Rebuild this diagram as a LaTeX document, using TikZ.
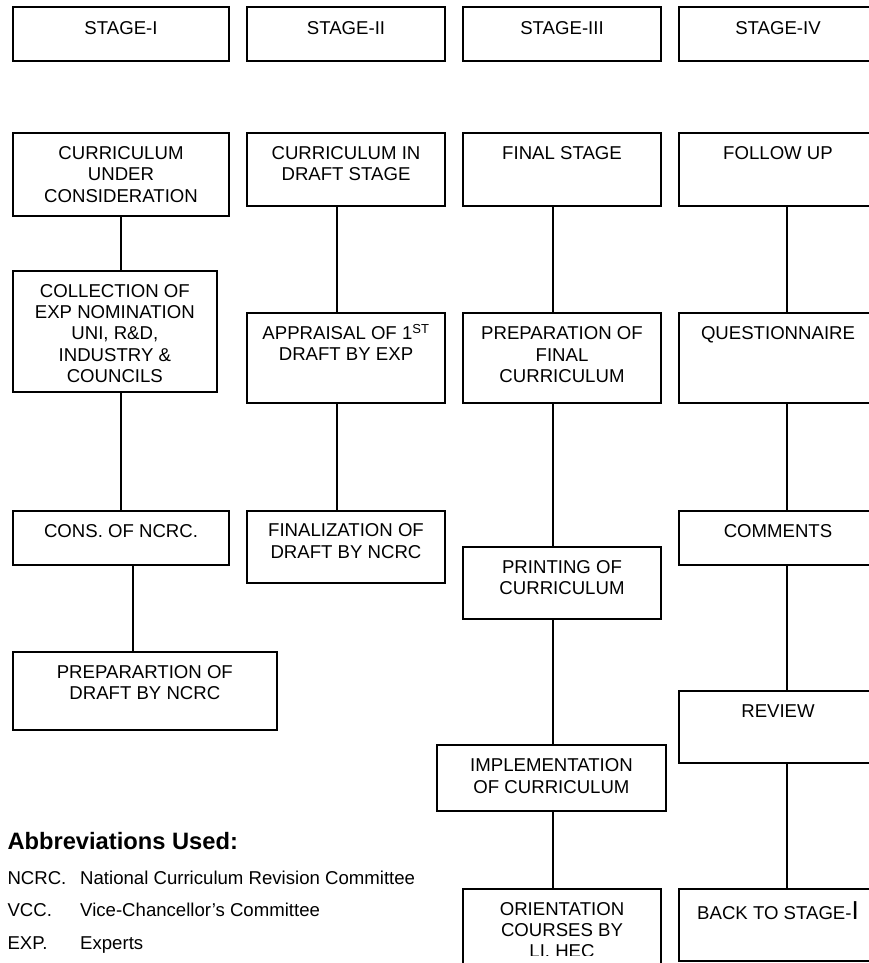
\documentclass[tikz,border=0pt]{standalone}
\usepackage{fontspec}
\setmainfont{Liberation Sans}
\newcommand\boxfont{\fontsize{18.6}{21.3}\selectfont}
\tikzset{
  boxshape/.style={draw, line width=1.9pt, rectangle, inner sep=0pt, outer sep=0pt, anchor=north west},
  lbl/.style={anchor=base, inner sep=0pt, font=\boxfont},
  link/.style={line width=1.9pt},
  abbr/.style={anchor=base west, inner sep=0pt, font=\boxfont}
}
% \bx[offset]{name}{x1}{y1}{x2}{y2}{text}
\newcommand\bx[7][26.7]{%
  \node[boxshape, minimum width={#5-#3}, minimum height={#6-#4}] (#2) at (#3,#4) {};
  \node[lbl] (#2t) at ([yshift=-#1pt]#2.north) {\parbox[t]{\dimexpr #5pt-#3pt\relax}{\centering #7}};
}
\begin{document}
\begin{tikzpicture}[x=1pt,y=-1pt]
\useasboundingbox (0,0) rectangle (869,963);

% stage headers
\bx[28.3]{s1}{12.7}{6.7}{229.3}{61.3}{STAGE-I}
\bx[28.3]{s2}{246.7}{6.7}{445.3}{61.3}{STAGE-II}
\bx[28.3]{s3}{462.7}{6.7}{661.3}{61.3}{STAGE-III}
\bx[28.3]{s4}{679}{6.7}{877}{61.3}{STAGE-IV}

% column 1
\bx{a1}{12.7}{132.7}{229.3}{216}{CURRICULUM\\UNDER\\CONSIDERATION}
\bx[26.3]{a2}{12.7}{271}{217}{391.7}{COLLECTION OF\\EXP NOMINATION\\UNI, R\&D,\\INDUSTRY \&\\COUNCILS}
\bx{a3}{12.7}{511}{229.3}{565}{CONS. OF NCRC.}
\bx[26.3]{a4}{12.7}{652.3}{277}{730}{PREPARARTION OF\\DRAFT BY NCRC}

% column 2
\bx{b1}{246.7}{132.7}{445.3}{205.7}{CURRICULUM IN\\DRAFT STAGE}
\bx[26.3]{b2}{246.7}{313}{445.3}{403}{APPRAISAL OF 1\textsuperscript{ST}\\DRAFT BY EXP}
\bx[25.9]{b3}{246.7}{511}{445.3}{583}{FINALIZATION OF\\DRAFT BY NCRC}

% column 3
\bx{c1}{462.7}{132.7}{661.3}{205.7}{FINAL STAGE}
\bx{c2}{462.7}{313}{661.3}{403}{PREPARATION OF\\FINAL\\CURRICULUM}
\bx{c3}{462.7}{546.7}{661.3}{619.3}{PRINTING OF\\CURRICULUM}
\bx{c4}{436.7}{745}{666.3}{810.7}{IMPLEMENTATION\\OF CURRICULUM}
\node[boxshape, minimum width={661.3-462.7}, minimum height={990-889.3}] (c5) at (462.7,889.3) {};
\begin{scope}
  \clip (440,880) rectangle (680,955.5);
  \node[lbl] (c5t) at ([yshift=-25.8pt]c5.north) {\parbox[t]{198.6pt}{\centering ORIENTATION\\COURSES BY\\LI. HEC}};
\end{scope}

% column 4
\bx{d1}{679}{132.7}{877}{205.7}{FOLLOW UP}
\bx{d2}{679}{313}{877}{403}{QUESTIONNAIRE}
\bx{d3}{679}{511}{877}{565}{COMMENTS}
\bx{d4}{679}{691}{877}{763}{REVIEW}
\bx[30]{d5}{679}{889.3}{877}{961}{BACK TO STAGE-{\fontsize{26}{26}\selectfont I}}

% connector x positions
\coordinate (xa) at (121,0);
\coordinate (xb) at (133,0);
\coordinate (xc) at (337,0);
\coordinate (xd) at (553.3,0);
\coordinate (xe) at (787,0);

\draw[link] (a1.south -| xa) -- (a2.north -| xa);
\draw[link] (a2.south -| xa) -- (a3.north -| xa);
\draw[link] (a3.south -| xb) -- (a4.north -| xb);

\draw[link] (b1.south -| xc) -- (b2.north -| xc);
\draw[link] (b2.south -| xc) -- (b3.north -| xc);

\draw[link] (c1.south -| xd) -- (c2.north -| xd);
\draw[link] (c2.south -| xd) -- (c3.north -| xd);
\draw[link] (c3.south -| xd) -- (c4.north -| xd);
\draw[link] (c4.south -| xd) -- (c5.north -| xd);

\draw[link] (d1.south -| xe) -- (d2.north -| xe);
\draw[link] (d2.south -| xe) -- (d3.north -| xe);
\draw[link] (d3.south -| xe) -- (d4.north -| xe);
\draw[link] (d4.south -| xe) -- (d5.north -| xe);

% abbreviations
\node[anchor=base west, inner sep=0pt, font=\fontsize{23.7}{26}\selectfont\bfseries] (abh) at (7.3,849) {Abbreviations Used:};
\node[abbr] (k1) at (7.3,884) {NCRC.};
\node[abbr] (v1) at (80,884) {National Curriculum Revision Committee};
\node[abbr] (k2) at (7.3,916.7) {VCC.};
\node[abbr] (v2) at (80,916.7) {Vice-Chancellor’s Committee};
\node[abbr] (k3) at (7.3,949.3) {EXP.};
\node[abbr] (v3) at (80,949.3) {Experts};
\end{tikzpicture}
\end{document}
